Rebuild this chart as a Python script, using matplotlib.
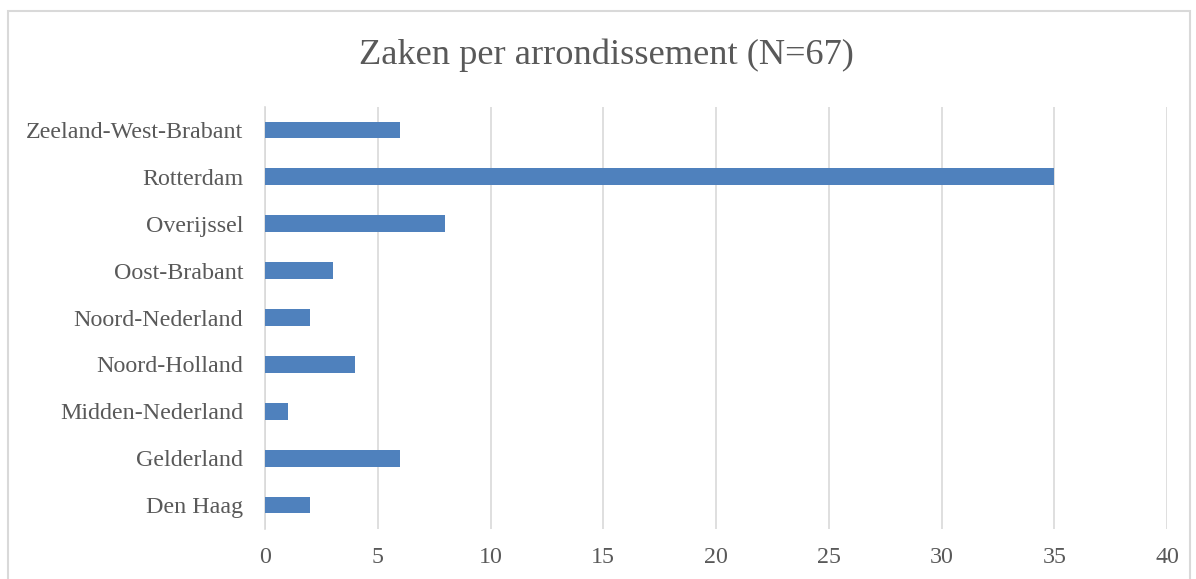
import matplotlib
matplotlib.use("Agg")
import matplotlib.pyplot as plt
from matplotlib.patches import Rectangle

categories = ["Den Haag", "Gelderland", "Midden-Nederland", "Noord-Holland",
              "Noord-Nederland", "Oost-Brabant", "Overijssel", "Rotterdam",
              "Zeeland-West-Brabant"]
values = [2, 6, 1, 4, 2, 3, 8, 35, 6]
xticks = [0, 5, 10, 15, 20, 25, 30, 35, 40]
title = "Zaken per arrondissement (N=67)"

plt.rcParams['font.family'] = ['Liberation Serif', 'DejaVu Serif']
txt = "#595959"
grid = "#d9d9d9"

fig = plt.figure(figsize=(11.96, 5.79), dpi=100)
ax = fig.add_axes([265/1196, 1-528.5/579, (1167-265)/1196, (528.5-106.5)/579])

ypos = list(range(len(categories)))
ax.barh(ypos, values, height=0.36, color="#4f81bd", zorder=3)
ax.set_ylim(-0.5, len(categories)-0.5)
ax.set_xlim(0, 40)
ax.set_xticks(xticks)
ax.set_xticklabels([str(t) for t in xticks], fontsize=17.3, color=txt)
ax.set_yticks(ypos)
ax.set_yticklabels(categories, fontsize=17.3, color=txt)
ax.tick_params(axis='both', length=0)
ax.tick_params(axis='x', pad=13)
ax.tick_params(axis='y', pad=15.8)
ax.grid(axis='x', color=grid, linewidth=1.2, zorder=0)
for s in ['top', 'right', 'bottom']:
    ax.spines[s].set_visible(False)
ax.spines['left'].set_color(grid)
ax.spines['left'].set_linewidth(1.2)

fig.text(606/1196, 1-55/579, title, ha='center', va='center', fontsize=26.2, color=txt)

fig.patches.append(Rectangle((8/1196, -0.1), (1190-8)/1196, 1.1-11/579, transform=fig.transFigure,
                             fill=False, edgecolor=grid, linewidth=1.5))

fig.savefig("out.png", dpi=100)
